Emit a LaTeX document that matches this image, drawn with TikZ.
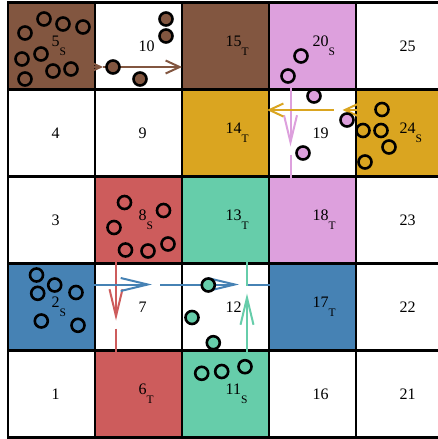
\documentclass[tikz,border=0pt]{standalone}
\usepackage{fontspec}
\setmainfont{Liberation Serif}
\usetikzlibrary{arrows.meta,calc}

\definecolor{agbrown}{HTML}{825640}
\definecolor{agblue}{HTML}{4682B4}
\definecolor{agred}{HTML}{CD5C5C}
\definecolor{agaqua}{HTML}{66CDAA}
\definecolor{agpink}{HTML}{DDA0DD}
\definecolor{aggold}{HTML}{DAA520}
\newcommand\agentsub[1]{\raisebox{-9pt}{\fontsize{11.5}{11.5}\selectfont #1}}

\begin{document}
\begin{tikzpicture}[x=1pt, y=-1pt,
  cell/.style={minimum size=87pt, inner sep=0pt, outer sep=0pt},
  lbl/.style={anchor=west, inner sep=0pt, font=\fontsize{16}{16}\selectfont},
  gridline/.style={line width=2.7pt, line cap=rect},
  trail/.style={line width=2pt},
  longhead/.style={-{Straight Barb[length=27pt,width=13pt]}},
  shorthead/.style={-{Straight Barb[length=14pt,width=13pt]}},
  agent/.style={line width=2.6pt, draw=black, fill=#1}]
  \useasboundingbox (0,0) rectangle (437,439);
  % cells, numbered up the columns
  \foreach \id/\f in {1/white, 2/agblue, 3/white, 4/white, 5/agbrown,
      6/agred, 7/white, 8/agred, 9/white, 10/white,
      11/agaqua, 12/white, 13/agaqua, 14/aggold, 15/agbrown,
      16/white, 17/agblue, 18/agpink, 19/white, 20/agpink,
      21/white, 22/white, 23/white, 24/aggold, 25/white} {
    \pgfmathtruncatemacro\cx{(\id-1)/5}
    \pgfmathtruncatemacro\cy{4-mod(\id-1,5)}
    \node[cell, fill=\f] (c\id) at ({51.5+87*\cx},{46+87*\cy}) {};
  }
  \foreach \k in {0,...,5} {
    \draw[gridline] (8+87*\k,2.5) -- (8+87*\k,437.5);
    \draw[gridline] (8,2.5+87*\k) -- (443,2.5+87*\k);
  }
  % trails
  \draw[trail, agbrown, shorthead] ($(c5)+(21.5,21)$) -- ($(c10)+(-35.5,21)$);
  \draw[trail, agbrown, shorthead] ($(c10)+(-35.5,21)$) -- ($(c15)+(-43.5,21)$);
  \draw[trail, agred, longhead] ($(c8)+(-22.5,21.5)$) -- ($(c7)+(-22.5,13.5)$);
  \draw[trail, agred, longhead] ($(c7)+(-22.5,21.5)$) -- ($(c6)+(-22.5,13.5)$);
  \draw[trail, agblue, longhead] ($(c2)+(21.5,-22.5)$) -- ($(c7)+(13.5,-22.5)$);
  \draw[trail, agblue, longhead] ($(c7)+(21.5,-22.5)$) -- ($(c12)+(13.5,-22.5)$);
  \draw[trail, agblue, longhead] ($(c12)+(21.5,-22.5)$) -- ($(c17)+(13.5,-22.5)$);
  \draw[trail, agaqua, longhead] ($(c11)+(21.5,-21.5)$) -- ($(c12)+(21.5,-13.5)$);
  \draw[trail, agaqua, longhead] ($(c12)+(21.5,-21.5)$) -- ($(c13)+(21.5,-13.5)$);
  \draw[trail, agpink, longhead] ($(c20)+(-22,21.5)$) -- ($(c19)+(-22,13.5)$);
  \draw[trail, agpink, longhead] ($(c19)+(-22,21.5)$) -- ($(c18)+(-22,13.5)$);
  \draw[trail, aggold, shorthead] ($(c24)+(21,-23)$) -- ($(c19)+(30,-23)$);
  \draw[trail, aggold, shorthead] ($(c19)+(21,-23)$) -- ($(c14)+(41.5,-23)$);
  % cell labels
  \foreach \id/\tg in {1/, 2/\agentsub{S}, 3/, 4/, 5/\agentsub{S},
      6/\agentsub{T}, 7/, 8/\agentsub{S}, 9/, 10/,
      11/\agentsub{S}, 12/, 13/\agentsub{T}, 14/\agentsub{T}, 15/\agentsub{T},
      16/, 17/\agentsub{T}, 18/\agentsub{T}, 19/, 20/\agentsub{S},
      21/, 22/, 23/, 24/\agentsub{S}, 25/}
    \node[lbl] (l\id) at (c\id.center) {\id\tg};
  % agents
  \foreach \p in {(44,19),(63,24),(83,27),(25,33),(41,54),(22,59),(53,71),(71,69),(25,79),
      (166,19),(166,36),(113,67),(140,79)}
    \draw[agent=agbrown] \p circle[radius=6.5pt];
  \foreach \p in {(301,56),(288,76),(314,96),(347,120),(303,153)}
    \draw[agent=agpink] \p circle[radius=6.5pt];
  \foreach \p in {(382,109.5),(363,130.5),(381,130.5),(389,147),(365,162)}
    \draw[agent=aggold] \p circle[radius=6.5pt];
  \foreach \p in {(124.5,202.5),(163.5,210.5),(114,227.5),(125.5,250),(148,251),(168,244)}
    \draw[agent=agred] \p circle[radius=6.5pt];
  \foreach \p in {(36.5,275),(54.7,285),(37.7,293.3),(76,292.5),(41.3,321),(78,325.3)}
    \draw[agent=agblue] \p circle[radius=6.5pt];
  \foreach \p in {(208.3,285),(192,317.5),(213.3,342.7),(201.7,373.3),(221.7,371.5),(245,366.7)}
    \draw[agent=agaqua] \p circle[radius=6.5pt];
\end{tikzpicture}
\end{document}
